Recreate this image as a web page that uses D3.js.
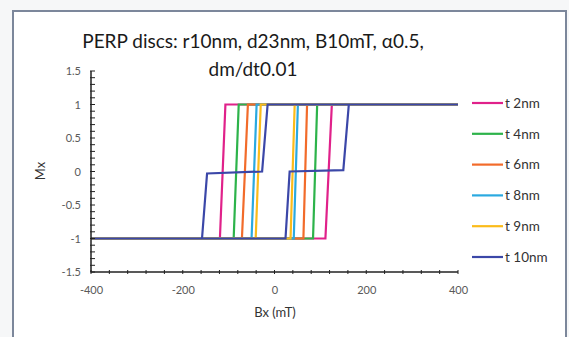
<!DOCTYPE html>
<html>
<head>
<meta charset="utf-8">
<script src="https://cdn.jsdelivr.net/npm/d3@7"></script>
<style>
  body { margin:0; background:#f6f7f8; }
  svg { display:block; }
</style>
</head>
<body>
<div class="chart"></div>
<script>
// series: legend names, colours and the Bx / Mx points of each loop
const series = ['t 2nm','t 4nm','t 6nm','t 8nm','t 9nm','t 10nm'];
const colors = ['#e0218a','#2db34a','#f26b2a','#2aa9e0','#fbbb1a','#3b47a8'];

const bx2  = [400,-107,-119,-400,111,125,400];
const mx2  = [1,1,-1,-1,-1,1,1];
const bx4  = [400,-78,-89,-400,84,93,400];
const mx4  = [1,1,-1,-1,-1,1,1];
const bx6  = [400,-58,-71,-400,63,71,400];
const mx6  = [1,1,-1,-1,-1,1,1];
const bx8  = [400,-39,-50,-400,42,51,400];
const mx8  = [1,1,-1,-1,-1,1,1];
const bx9  = [400,-30,-41,-400,35,44,400];
const mx9  = [1,1,-1,-1,-1,1,1];
const bx10 = [400,-15,-27,-147,-158,-400,24,33,150,162,400];
const mx10 = [1,1,0,-0.03,-1,-1,-1,0,0.02,1,1];

const xTicks = [-400,-200,0,200,400];
const yTicks = [-1.5,-1,-0.5,0,0.5,1,1.5];

const allBx = [bx2,bx4,bx6,bx8,bx9,bx10];
const allMx = [mx2,mx4,mx6,mx8,mx9,mx10];

const W = 569, H = 337;
const svg = d3.select('.chart').append('svg').attr('width',W).attr('height',H);

// chart frame
svg.append('rect').attr('x',13).attr('y',11).attr('width',553).attr('height',340)
    .attr('fill','#ffffff').attr('stroke','#7c879b').attr('stroke-width',2);

const xScale = d3.scaleLinear().domain([-400,400]).range([91,458]);
const yScale = d3.scaleLinear().domain([-1.5,1.5]).range([272,71]);

// title
const title = svg.append('text').attr('x',253).attr('text-anchor','middle')
    .attr('font-family','Lato, sans-serif').attr('font-size',19).attr('fill','#1a1a1a');
title.append('tspan').attr('x',253).attr('y',48).text('PERP discs: r10nm, d23nm, B10mT, \u03b10.5,');
title.append('tspan').attr('x',253).attr('y',76).text('dm/dt0.01');

// loops
const line = d3.line().x(d=>xScale(d[0])).y(d=>yScale(d[1]));
series.forEach((s,i)=>{
    const pts = allBx[i].map((b,j)=>[b,allMx[i][j]]);
    svg.append('path').datum(pts).attr('d',line)
        .attr('fill','none').attr('stroke',colors[i]).attr('stroke-width',2.2)
        .attr('stroke-linejoin','miter');
});

// axes
const yAxis = d3.axisLeft(yScale).tickValues(yTicks).tickSize(0).tickPadding(10);
const gy = svg.append('g').attr('transform',`translate(${xScale(-400)},0)`).call(yAxis);
gy.select('.domain').remove();
gy.selectAll('text').attr('font-family','Lato, sans-serif').attr('font-size',11).attr('fill','#595959')
    .text(d=>String(d));

const xAxis = d3.axisBottom(xScale).tickValues(xTicks).tickSize(0).tickPadding(14);
const gx = svg.append('g').attr('transform',`translate(0,${yScale(-1.5)})`).call(xAxis);
gx.select('.domain').remove();
gx.selectAll('text').attr('font-family','Lato, sans-serif').attr('font-size',11).attr('fill','#595959')
    .text(d=>String(d));

// minor ticks
const yMinor = d3.range(-15,16).map(d=>d/10);
svg.append('g').selectAll('line').data(yMinor).enter().append('line')
    .attr('x1',xScale(-400)-1).attr('x2',xScale(-400)+4)
    .attr('y1',d=>yScale(d)).attr('y2',d=>yScale(d))
    .attr('stroke','#222').attr('stroke-width',1);
const xMinor = d3.range(-400,401,40);
svg.append('g').selectAll('line').data(xMinor).enter().append('line')
    .attr('x1',d=>xScale(d)).attr('x2',d=>xScale(d))
    .attr('y1',yScale(-1.5)-2).attr('y2',yScale(-1.5)+2)
    .attr('stroke','#222').attr('stroke-width',1);

// axis lines
svg.append('line').attr('x1',xScale(-400)).attr('x2',xScale(-400))
    .attr('y1',yScale(1.5)).attr('y2',yScale(-1.5)).attr('stroke','#222').attr('stroke-width',1.5);
svg.append('line').attr('x1',xScale(-400)).attr('x2',xScale(400))
    .attr('y1',yScale(-1.5)).attr('y2',yScale(-1.5)).attr('stroke','#222').attr('stroke-width',1.5);

// axis titles
svg.append('text').attr('x',275).attr('y',317).attr('text-anchor','middle')
    .attr('font-family','Lato, sans-serif').attr('font-size',13).attr('fill','#333').text('Bx (mT)');
svg.append('text').attr('transform','translate(45,171) rotate(-90)').attr('text-anchor','middle')
    .attr('font-family','Lato, sans-serif').attr('font-size',13).attr('fill','#333').text('Mx');

// legend
const legend = svg.selectAll('.legend').data(series).enter().append('g')
    .attr('transform',(d,i)=>`translate(0,${103 + i*30.8})`);
legend.append('line').attr('x1',472).attr('x2',503).attr('y1',0).attr('y2',0)
    .attr('stroke',(d,i)=>colors[i]).attr('stroke-width',2.2);
legend.append('text').attr('x',505).attr('y',0).attr('dy','0.35em')
    .attr('font-family','Lato, sans-serif').attr('font-size',13.5).attr('fill','#333').text(d=>d);
</script>
</body>
</html>
